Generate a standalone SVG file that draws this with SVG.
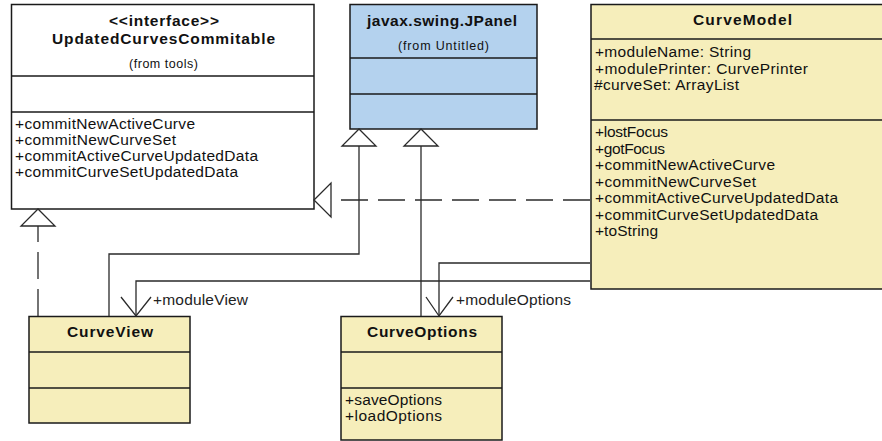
<svg xmlns="http://www.w3.org/2000/svg" width="882" height="441" viewBox="0 0 882 441">
  <style>
    text { font-family: "Liberation Sans", Arial, sans-serif; fill: #111; }
    .title { font-size: 15.5px; font-weight: bold; text-anchor: middle; }
    .from { font-size: 12.5px; text-anchor: middle; }
    .mem { font-size: 15.5px; }
    .lbl { font-size: 15.5px; fill: #222; }
    .box { stroke: #1a1a1a; stroke-width: 1.5; }
    .sep { stroke: #1a1a1a; stroke-width: 1.5; fill: none; }
    .white { fill: #ffffff; }
    .yellow { fill: #f6eebb; }
    .blue { fill: #b4d2ee; }
    .line { fill: none; stroke: #2a2a2a; stroke-width: 1.3; }
    .dash { stroke-dasharray: 27 10; }
    .tri { fill: #ffffff; stroke: #2a2a2a; stroke-width: 1.3; }
  </style>

  <!-- interface UpdatedCurvesCommitable -->
  <g id="UpdatedCurvesCommitable">
    <rect class="box white" x="11.5" y="4.5" width="302.5" height="204.5"/>
    <line class="sep" x1="11.5" y1="76" x2="314" y2="76"/>
    <line class="sep" x1="11.5" y1="112" x2="314" y2="112"/>
    <text class="title" x="164" y="26" textLength="110" lengthAdjust="spacing">&lt;&lt;interface&gt;&gt;</text>
    <text class="title" x="163.5" y="43.5" textLength="223" lengthAdjust="spacing">UpdatedCurvesCommitable</text>
    <text class="from" x="163.5" y="68" textLength="69" lengthAdjust="spacing">(from tools)</text>
    <text class="mem" x="15" y="129" textLength="180" lengthAdjust="spacing">+commitNewActiveCurve</text>
    <text class="mem" x="15" y="145" textLength="161" lengthAdjust="spacing">+commitNewCurveSet</text>
    <text class="mem" x="15" y="161" textLength="243" lengthAdjust="spacing">+commitActiveCurveUpdatedData</text>
    <text class="mem" x="15" y="177" textLength="223" lengthAdjust="spacing">+commitCurveSetUpdatedData</text>
  </g>

  <!-- class javax.swing.JPanel -->
  <g id="JPanel">
    <rect class="box blue" x="350" y="4.5" width="187" height="124.5"/>
    <line class="sep" x1="350" y1="58" x2="537" y2="58"/>
    <line class="sep" x1="350" y1="94" x2="537" y2="94"/>
    <text class="title" x="442" y="26" textLength="150" lengthAdjust="spacing">javax.swing.JPanel</text>
    <text class="from" x="443.5" y="49.5" textLength="91" lengthAdjust="spacing">(from Untitled)</text>
  </g>

  <!-- class CurveModel -->
  <g id="CurveModel">
    <rect class="box yellow" x="591" y="4.5" width="302" height="284.5"/>
    <line class="sep" x1="591" y1="39" x2="893" y2="39"/>
    <line class="sep" x1="591" y1="120" x2="893" y2="120"/>
    <text class="title" x="742.5" y="25" textLength="99" lengthAdjust="spacing">CurveModel</text>
    <text class="mem" x="595" y="57" textLength="156" lengthAdjust="spacing">+moduleName: String</text>
    <text class="mem" x="595" y="73.5" textLength="213" lengthAdjust="spacing">+modulePrinter: CurvePrinter</text>
    <text class="mem" x="594" y="90" textLength="145" lengthAdjust="spacing">#curveSet: ArrayList</text>
    <text class="mem" x="595" y="137" textLength="73" lengthAdjust="spacing">+lostFocus</text>
    <text class="mem" x="595" y="153.5" textLength="70" lengthAdjust="spacing">+gotFocus</text>
    <text class="mem" x="595" y="170" textLength="180" lengthAdjust="spacing">+commitNewActiveCurve</text>
    <text class="mem" x="595" y="186.5" textLength="161" lengthAdjust="spacing">+commitNewCurveSet</text>
    <text class="mem" x="595" y="203" textLength="243" lengthAdjust="spacing">+commitActiveCurveUpdatedData</text>
    <text class="mem" x="595" y="219.5" textLength="223" lengthAdjust="spacing">+commitCurveSetUpdatedData</text>
    <text class="mem" x="595" y="236" textLength="63" lengthAdjust="spacing">+toString</text>
  </g>

  <!-- class CurveView -->
  <g id="CurveView">
    <rect class="box yellow" x="29" y="316.5" width="161" height="106.5"/>
    <line class="sep" x1="29" y1="352" x2="190" y2="352"/>
    <line class="sep" x1="29" y1="388" x2="190" y2="388"/>
    <text class="title" x="110" y="337" textLength="86" lengthAdjust="spacing">CurveView</text>
  </g>

  <!-- class CurveOptions -->
  <g id="CurveOptions">
    <rect class="box yellow" x="341" y="316.5" width="161" height="123.5"/>
    <line class="sep" x1="341" y1="352" x2="502" y2="352"/>
    <line class="sep" x1="341" y1="388" x2="502" y2="388"/>
    <text class="title" x="422" y="337" textLength="110" lengthAdjust="spacing">CurveOptions</text>
    <text class="mem" x="345" y="405" textLength="97" lengthAdjust="spacing">+saveOptions</text>
    <text class="mem" x="345" y="421" textLength="97" lengthAdjust="spacing">+loadOptions</text>
  </g>

  <!-- relations -->
  <g id="connectors">
    <!-- realizations of UpdatedCurvesCommitable -->
    <path class="line dash" d="M38,316 V226"/>
    <polygon class="tri" points="38,209 21,226 55,226"/>
    <path class="line dash" d="M590,200 H331"/>
    <polygon class="tri" points="314,200 331,183 331,217"/>

    <!-- generalizations to JPanel -->
    <path class="line" d="M109,316 V254 H359 V146"/>
    <polygon class="tri" points="359,129 342,146 376,146"/>
    <path class="line" d="M421,316 V146"/>
    <polygon class="tri" points="421,129 404,146 438,146"/>

    <!-- associations from CurveModel -->
    <path class="line" d="M590,281 H136 V316"/>
    <path class="line" d="M121,297 L136,316 L151,297"/>
    <text class="lbl" x="153" y="305" textLength="95" lengthAdjust="spacing">+moduleView</text>

    <path class="line" d="M590,263 H439 V316"/>
    <path class="line" d="M426,297 L439,316 L453,297"/>
    <text class="lbl" x="456" y="305" textLength="115" lengthAdjust="spacing">+moduleOptions</text>
  </g>
</svg>
